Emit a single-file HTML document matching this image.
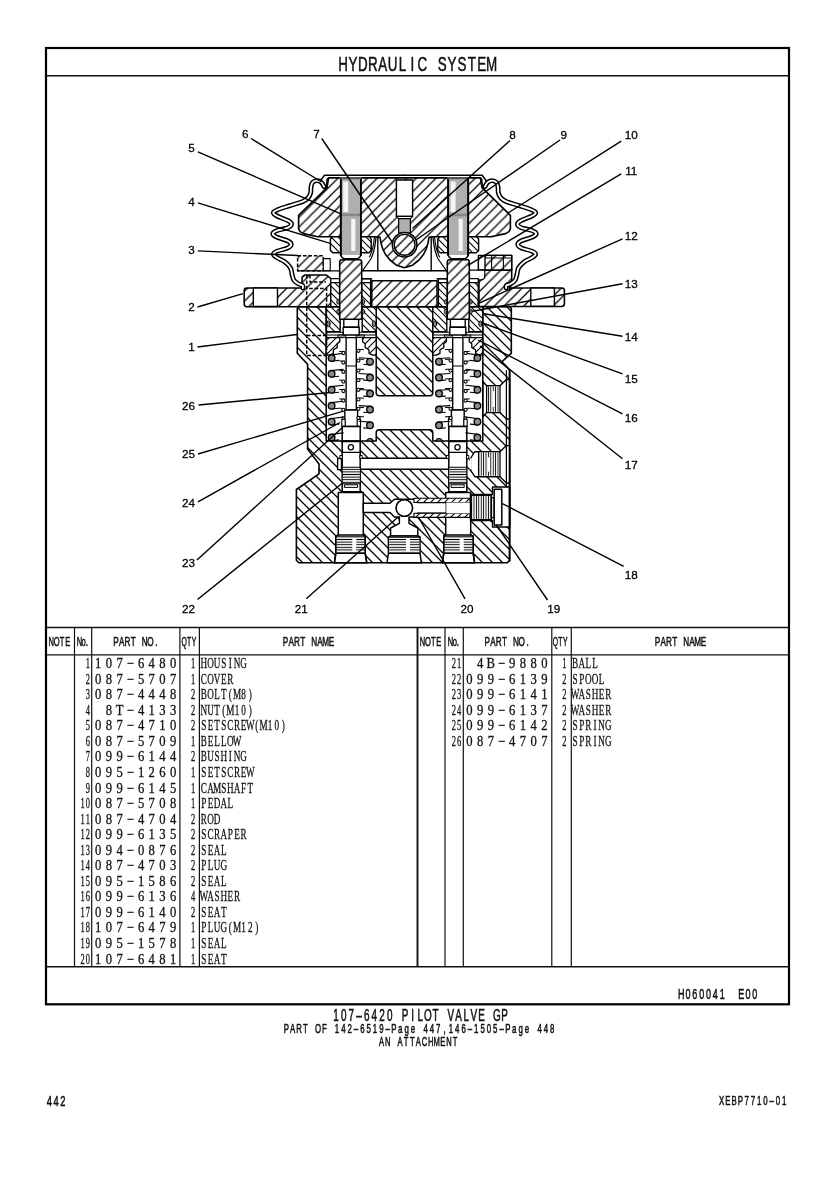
<!DOCTYPE html>
<html><head><meta charset="utf-8"><title>Hydraulic System</title>
<style>
html,body{margin:0;padding:0;background:#fff}
svg{display:block}
text{text-anchor:middle;fill:#111}
.s{font-family:"Liberation Sans",sans-serif;stroke:#111;stroke-width:0.55px}
.m{font-family:"Liberation Serif",serif;stroke:#111;stroke-width:0.3px}
.n{font-family:"Liberation Sans",sans-serif;font-size:11.7px;fill:#000;stroke:#000;stroke-width:0.28px}
</style></head><body>
<svg width="840" height="1189" viewBox="0 0 840 1189">
<rect width="840" height="1189" fill="#fff"/>
<defs>
<pattern id="hA" patternUnits="userSpaceOnUse" width="9.8" height="9.8" patternTransform="translate(6.6,0)"><rect width="9.8" height="9.8" fill="#fff"/><path d="M-1,1 l2,-2 M0,9.8 l9.8,-9.8 M8.8,10.8 l2,-2" stroke="#000" stroke-width="1.25"/></pattern>
<pattern id="hB" patternUnits="userSpaceOnUse" width="10" height="10" patternTransform="translate(0,0)"><rect width="10" height="10" fill="#fff"/><path d="M-1,9 l2,2 M0,0 l10,10 M9,-1 l2,2" stroke="#000" stroke-width="1.25"/></pattern>
<pattern id="hA2" patternUnits="userSpaceOnUse" width="7" height="7" patternTransform="translate(2,0)"><rect width="7" height="7" fill="#fff"/><path d="M-1,1 l2,-2 M0,7 l7,-7 M6,8 l2,-2" stroke="#000" stroke-width="1.1"/></pattern>
<pattern id="hB2" patternUnits="userSpaceOnUse" width="7" height="7" patternTransform="translate(3,0)"><rect width="7" height="7" fill="#fff"/><path d="M-1,6 l2,2 M0,0 l7,7 M6,-1 l2,2" stroke="#000" stroke-width="1.1"/></pattern>
<pattern id="hC" patternUnits="userSpaceOnUse" width="1.7" height="1.7" patternTransform="translate(0,0)"><rect width="1.7" height="1.7" fill="#fff"/><path d="M-1,1 l2,-2 M0,1.7 l1.7,-1.7 M0.7,2.7 l2,-2" stroke="#000" stroke-width="0.6"/></pattern>
<pattern id="th" patternUnits="userSpaceOnUse" width="4" height="1.9"><rect width="4" height="1.9" fill="#fff"/><path d="M0,0.95 h4" stroke="#000" stroke-width="0.62"/></pattern>
<pattern id="th2" patternUnits="userSpaceOnUse" width="4" height="2.6"><rect width="4" height="2.6" fill="#fff"/><path d="M0,1.3 h4" stroke="#000" stroke-width="1.0"/></pattern>
<pattern id="tv" patternUnits="userSpaceOnUse" width="2.4" height="4"><rect width="2.4" height="4" fill="#fff"/><path d="M1.2,0 v4" stroke="#000" stroke-width="0.9"/></pattern>
</defs>
<g stroke="#000" stroke-linejoin="round" stroke-linecap="round" fill="none">
<polygon points="297.3,308.6 299.0,306.7 509.8,306.7 511.3,308.4 511.3,353.3 502.0,361.7 509.6,370.0 509.6,560.3 507.3,562.8 298.8,562.8 296.4,560.3 296.4,489.5 319.0,473.8 319.0,464.0 307.6,449.0 307.6,364.3 297.3,353.3" fill="url(#hB)" stroke-width="1.62"/>
<path d="M326.2,306.7 V441 H376.2 V432.7 Q376.2,429.7 379.2,429.7 H429.8 Q432.8,429.7 432.8,432.7 V441 H482.8 V306.7 H432.8 V392.8 Q432.8,395.8 429.8,395.8 H379.2 Q376.2,395.8 376.2,392.8 V306.7 Z" fill="#fff" stroke-width="1.50"/>
<polygon points="338.3,492.5 338.3,535.0 335.8,536.0 335.8,553.3 334.4,562.8 366.8,562.8 365.2,553.3 365.2,536.0 363.3,535.0 363.3,492.5" fill="#fff" stroke-width="1.50"/>
<rect x="336.6" y="537.0" width="27.8" height="15.6" fill="url(#th2)" stroke-width="0.00"/>
<line x1="335.8" y1="536.0" x2="365.2" y2="536.0" stroke-width="1.25"/>
<line x1="335.8" y1="553.3" x2="365.2" y2="553.3" stroke-width="1.25"/>
<line x1="338.3" y1="534.8" x2="363.3" y2="534.8" stroke-width="1.25"/>
<polyline points="335.8,536.0 335.8,553.3 334.4,562.8" fill="none" stroke-width="1.50"/>
<polyline points="365.2,536.0 365.2,553.3 366.8,562.8" fill="none" stroke-width="1.50"/>
<rect x="352.3" y="538.2" width="4" height="13.6" fill="#fff" stroke="none"/>
<polygon points="470.7,492.5 470.7,535.0 473.2,536.0 473.2,553.3 474.6,562.8 442.2,562.8 443.8,553.3 443.8,536.0 445.7,535.0 445.7,492.5" fill="#fff" stroke-width="1.50"/>
<rect x="444.6" y="537.0" width="27.8" height="15.6" fill="url(#th2)" stroke-width="0.00"/>
<line x1="473.2" y1="536.0" x2="443.8" y2="536.0" stroke-width="1.25"/>
<line x1="473.2" y1="553.3" x2="443.8" y2="553.3" stroke-width="1.25"/>
<line x1="470.7" y1="534.8" x2="445.7" y2="534.8" stroke-width="1.25"/>
<polyline points="473.2,536.0 473.2,553.3 474.6,562.8" fill="none" stroke-width="1.50"/>
<polyline points="443.8,536.0 443.8,553.3 442.2,562.8" fill="none" stroke-width="1.50"/>
<rect x="459.7" y="538.2" width="4" height="13.6" fill="#fff" stroke="none"/>
<rect x="337.6" y="458.6" width="3.9" height="11.0" fill="#fff" stroke-width="1.38"/>
<rect x="359.2" y="458.3" width="91.8" height="10.9" fill="#fff" stroke-width="1.38"/>
<path d="M363.3,503.3 H390 L394.5,499.3 H414 L417.5,502.5 H446.3 V513.3 H417.5 L414,517 H409 V523.3 L417.8,528 V536 H390.6 V528 L399.4,523.3 V517 H394.5 L390,512.5 H363.3 Z" fill="#fff" stroke-width="1.44"/>
<polygon points="390.6,536.0 388.4,537.0 388.4,553.3 387.0,562.8 421.4,562.8 420.0,553.3 420.0,537.0 417.8,536.0" fill="#fff" stroke-width="1.50"/>
<rect x="389.2" y="538.0" width="30.0" height="14.6" fill="url(#th2)" stroke-width="0.00"/>
<line x1="388.4" y1="537.0" x2="420.0" y2="537.0" stroke-width="1.25"/>
<line x1="388.4" y1="553.3" x2="420.0" y2="553.3" stroke-width="1.25"/>
<rect x="406" y="538.2" width="4" height="13.6" fill="#fff" stroke="none"/>
<rect x="414.0" y="498.2" width="56.0" height="4.3" fill="url(#hA2)" stroke-width="1.12"/>
<rect x="414.0" y="513.3" width="56.0" height="4.1" fill="url(#hA2)" stroke-width="1.12"/>
<rect x="446.3" y="502.5" width="24.2" height="10.8" fill="#fff" stroke-width="0.00"/>
<circle cx="404.3" cy="508.0" r="8.3" fill="#fff" stroke-width="1.62"/>
<polygon points="470.5,494.5 492.5,494.5 492.5,487.0 509.6,487.0 509.6,527.0 492.5,527.0 492.5,520.5 470.5,520.5" fill="#fff" stroke-width="1.44"/>
<rect x="471.5" y="495.5" width="20.0" height="24.0" fill="url(#tv)" stroke-width="1.12"/>
<rect x="491.5" y="497.5" width="2.7" height="20.0" fill="#fff" stroke-width="1.25"/>
<rect x="494.2" y="489.3" width="7.6" height="35.7" fill="#fff" stroke-width="1.50"/>
<line x1="509.6" y1="486.0" x2="509.6" y2="528.0" stroke-width="1.62"/>
<polygon points="482.8,381.5 486.6,385.8 500.0,385.8 506.4,379.6 509.6,379.6 509.6,419.0 506.4,419.0 500.0,412.6 486.6,412.6 482.8,416.8" fill="#fff" stroke-width="1.38"/>
<rect x="487.6" y="386.6" width="11.6" height="25.2" fill="url(#tv)" stroke-width="0.00"/>
<line x1="486.6" y1="385.8" x2="486.6" y2="412.6" stroke-width="1.25"/>
<line x1="500.0" y1="385.8" x2="500.0" y2="412.6" stroke-width="1.25"/>
<line x1="493.5" y1="392.0" x2="493.5" y2="406.0" stroke-width="2.00" stroke="#fff"/>
<line x1="482.8" y1="381.5" x2="482.8" y2="416.8" stroke-width="1.38"/>
<polygon points="470.8,458.0 470.8,470.5 474.8,476.7 500.0,476.7 506.4,483.0 509.6,483.0 509.6,445.6 506.4,445.6 500.0,451.7 474.8,451.7" fill="#fff" stroke-width="1.38"/>
<rect x="479.0" y="452.6" width="20.2" height="23.2" fill="url(#tv)" stroke-width="0.00"/>
<line x1="478.6" y1="451.7" x2="478.6" y2="476.7" stroke-width="1.25"/>
<line x1="500.0" y1="451.7" x2="500.0" y2="476.7" stroke-width="1.25"/>
<line x1="489.0" y1="458.0" x2="489.0" y2="471.0" stroke-width="2.00" stroke="#fff"/>
<line x1="470.8" y1="459.2" x2="470.8" y2="468.6" stroke-width="2.00" stroke="#fff"/>
<line x1="506.4" y1="370.5" x2="506.4" y2="486.6" stroke-width="1.25"/>
<line x1="509.6" y1="370.0" x2="509.6" y2="561.0" stroke-width="1.62"/>
<rect x="326.2" y="306.7" width="14.0" height="25.0" fill="url(#hB2)" stroke-width="1.38"/>
<ellipse cx="328.5" cy="323.8" rx="1.7" ry="2.9" fill="#888" stroke-width="0.9"/>
<rect x="326.6" y="332.2" width="16.6" height="2.8" fill="#fff" stroke-width="1.12"/>
<rect x="338.2" y="335.0" width="7.6" height="2.6" fill="url(#hC)" stroke-width="1.00"/>
<polygon points="326.2,337.6 339.8,337.6 339.8,341.7 337.2,343.8 337.2,347.6 333.4,349.8 333.4,353.3 329.7,355.2 326.2,355.2" fill="url(#hA2)" stroke-width="1.31"/>
<rect x="362.2" y="306.7" width="14.0" height="25.0" fill="url(#hB2)" stroke-width="1.38"/>
<ellipse cx="373.9" cy="323.8" rx="1.7" ry="2.9" fill="#888" stroke-width="0.9"/>
<rect x="359.2" y="332.2" width="16.6" height="2.8" fill="#fff" stroke-width="1.12"/>
<rect x="356.6" y="335.0" width="7.6" height="2.6" fill="url(#hC)" stroke-width="1.00"/>
<polygon points="376.2,337.6 362.6,337.6 362.6,341.7 365.2,343.8 365.2,347.6 369.0,349.8 369.0,353.3 372.7,355.2 376.2,355.2" fill="url(#hA2)" stroke-width="1.31"/>
<rect x="343.8" y="319.3" width="14.8" height="8.0" fill="#fff" stroke-width="1.38"/>
<rect x="343.2" y="327.3" width="16.0" height="7.7" fill="#fff" stroke-width="1.38"/>
<rect x="346.1" y="337.6" width="10.2" height="72.4" fill="#fff" stroke-width="1.38"/>
<line x1="346.6" y1="366.0" x2="355.8" y2="366.0" stroke-width="1.12"/>
<rect x="344.8" y="410.0" width="12.8" height="16.4" fill="#fff" stroke-width="1.38"/>
<rect x="341.8" y="419.2" width="3.4" height="7.2" fill="#fff" stroke-width="1.12"/>
<rect x="342.6" y="416.8" width="1.8" height="2.4" fill="#fff" stroke-width="1.00"/>
<rect x="357.2" y="419.2" width="3.4" height="7.2" fill="#fff" stroke-width="1.12"/>
<rect x="358.0" y="416.8" width="1.8" height="2.4" fill="#fff" stroke-width="1.00"/>
<rect x="342.2" y="426.4" width="18.0" height="14.6" fill="#fff" stroke-width="1.50"/>
<rect x="342.2" y="441.0" width="18.0" height="50.8" fill="#fff" stroke-width="1.50"/>
<line x1="342.2" y1="441.6" x2="360.2" y2="441.6" stroke-width="1.12"/>
<line x1="342.2" y1="452.4" x2="360.2" y2="452.4" stroke-width="1.12"/>
<line x1="342.2" y1="467.2" x2="360.2" y2="467.2" stroke-width="1.12"/>
<circle cx="350.9" cy="447.2" r="2.6" fill="#fff" stroke-width="1.25"/>
<rect x="342.8" y="468.0" width="16.8" height="15.4" fill="url(#th2)" stroke-width="0.00"/>
<rect x="344.8" y="484.8" width="12.8" height="2.6" fill="#fff" stroke-width="1.00"/>
<line x1="342.2" y1="483.8" x2="360.2" y2="483.8" stroke-width="1.12"/>
<rect x="340.2" y="455.5" width="2.0" height="3.1" fill="#fff" stroke-width="1.00"/>
<rect x="360.2" y="455.5" width="2.0" height="3.1" fill="#fff" stroke-width="1.00"/>
<line x1="331.6" y1="354.8" x2="343.2" y2="353.4" stroke-width="1.12"/>
<line x1="331.6" y1="361.2" x2="338.7" y2="360.4" stroke-width="1.12"/>
<circle cx="331.6" cy="358.0" r="3.3" fill="#8c8c8c" stroke-width="1.38"/>
<line x1="331.6" y1="370.6" x2="343.2" y2="369.2" stroke-width="1.12"/>
<line x1="331.6" y1="377.0" x2="338.7" y2="376.2" stroke-width="1.12"/>
<circle cx="331.6" cy="373.8" r="3.3" fill="#8c8c8c" stroke-width="1.38"/>
<line x1="331.6" y1="386.6" x2="343.2" y2="385.2" stroke-width="1.12"/>
<line x1="331.6" y1="393.0" x2="338.7" y2="392.2" stroke-width="1.12"/>
<circle cx="331.6" cy="389.8" r="3.3" fill="#8c8c8c" stroke-width="1.38"/>
<line x1="331.6" y1="402.6" x2="343.2" y2="401.2" stroke-width="1.12"/>
<line x1="331.6" y1="409.0" x2="338.7" y2="408.2" stroke-width="1.12"/>
<circle cx="331.6" cy="405.8" r="3.3" fill="#8c8c8c" stroke-width="1.38"/>
<line x1="331.6" y1="418.5" x2="343.2" y2="417.1" stroke-width="1.12"/>
<line x1="331.6" y1="424.9" x2="338.7" y2="424.1" stroke-width="1.12"/>
<circle cx="331.6" cy="421.7" r="3.3" fill="#8c8c8c" stroke-width="1.38"/>
<line x1="331.6" y1="434.3" x2="343.2" y2="432.9" stroke-width="1.12"/>
<line x1="331.6" y1="440.7" x2="338.7" y2="439.9" stroke-width="1.12"/>
<circle cx="331.6" cy="437.5" r="3.3" fill="#8c8c8c" stroke-width="1.38"/>
<line x1="370.0" y1="358.5" x2="359.2" y2="357.7" stroke-width="1.12"/>
<line x1="370.0" y1="364.9" x2="363.7" y2="364.3" stroke-width="1.12"/>
<circle cx="370.0" cy="361.7" r="3.3" fill="#8c8c8c" stroke-width="1.38"/>
<line x1="370.0" y1="374.3" x2="359.2" y2="373.5" stroke-width="1.12"/>
<line x1="370.0" y1="380.7" x2="363.7" y2="380.1" stroke-width="1.12"/>
<circle cx="370.0" cy="377.5" r="3.3" fill="#8c8c8c" stroke-width="1.38"/>
<line x1="370.0" y1="390.3" x2="359.2" y2="389.5" stroke-width="1.12"/>
<line x1="370.0" y1="396.7" x2="363.7" y2="396.1" stroke-width="1.12"/>
<circle cx="370.0" cy="393.5" r="3.3" fill="#8c8c8c" stroke-width="1.38"/>
<line x1="370.0" y1="406.4" x2="359.2" y2="405.6" stroke-width="1.12"/>
<line x1="370.0" y1="412.8" x2="363.7" y2="412.2" stroke-width="1.12"/>
<circle cx="370.0" cy="409.6" r="3.3" fill="#8c8c8c" stroke-width="1.38"/>
<line x1="370.0" y1="422.1" x2="359.2" y2="421.3" stroke-width="1.12"/>
<line x1="370.0" y1="428.5" x2="363.7" y2="427.9" stroke-width="1.12"/>
<circle cx="370.0" cy="425.3" r="3.3" fill="#8c8c8c" stroke-width="1.38"/>
<path d="M366.8,441 A3.3,3.3 0 0 1 373.2,441 Z" fill="#777" stroke-width="1.1"/>
<circle cx="343.4" cy="353.0" r="1.6" fill="#fff" stroke-width="1.12"/>
<line x1="341.8" y1="351.6" x2="339.6" y2="351.4" stroke-width="1.00"/>
<circle cx="343.4" cy="362.5" r="1.6" fill="#fff" stroke-width="1.12"/>
<line x1="341.8" y1="361.1" x2="339.6" y2="360.9" stroke-width="1.00"/>
<circle cx="343.4" cy="371.8" r="1.6" fill="#fff" stroke-width="1.12"/>
<line x1="341.8" y1="370.4" x2="339.6" y2="370.2" stroke-width="1.00"/>
<circle cx="343.4" cy="381.6" r="1.6" fill="#fff" stroke-width="1.12"/>
<line x1="341.8" y1="380.2" x2="339.6" y2="380.0" stroke-width="1.00"/>
<circle cx="343.4" cy="391.0" r="1.6" fill="#fff" stroke-width="1.12"/>
<line x1="341.8" y1="389.6" x2="339.6" y2="389.4" stroke-width="1.00"/>
<circle cx="343.4" cy="400.5" r="1.6" fill="#fff" stroke-width="1.12"/>
<line x1="341.8" y1="399.1" x2="339.6" y2="398.9" stroke-width="1.00"/>
<circle cx="343.4" cy="409.8" r="1.6" fill="#fff" stroke-width="1.12"/>
<line x1="341.8" y1="408.4" x2="339.6" y2="408.2" stroke-width="1.00"/>
<circle cx="358.4" cy="350.8" r="1.6" fill="#fff" stroke-width="1.12"/>
<line x1="360.0" y1="349.4" x2="363.6" y2="349.6" stroke-width="1.00"/>
<circle cx="358.4" cy="360.6" r="1.6" fill="#fff" stroke-width="1.12"/>
<line x1="360.0" y1="359.2" x2="363.6" y2="359.4" stroke-width="1.00"/>
<circle cx="358.4" cy="370.6" r="1.6" fill="#fff" stroke-width="1.12"/>
<line x1="360.0" y1="369.2" x2="363.6" y2="369.4" stroke-width="1.00"/>
<circle cx="358.4" cy="380.2" r="1.6" fill="#fff" stroke-width="1.12"/>
<line x1="360.0" y1="378.8" x2="363.6" y2="379.0" stroke-width="1.00"/>
<circle cx="358.4" cy="389.8" r="1.6" fill="#fff" stroke-width="1.12"/>
<line x1="360.0" y1="388.4" x2="363.6" y2="388.6" stroke-width="1.00"/>
<circle cx="358.4" cy="399.4" r="1.6" fill="#fff" stroke-width="1.12"/>
<line x1="360.0" y1="398.0" x2="363.6" y2="398.2" stroke-width="1.00"/>
<circle cx="358.4" cy="408.8" r="1.6" fill="#fff" stroke-width="1.12"/>
<line x1="360.0" y1="407.4" x2="363.6" y2="407.6" stroke-width="1.00"/>
<circle cx="358.4" cy="418.0" r="1.6" fill="#fff" stroke-width="1.12"/>
<line x1="360.0" y1="416.6" x2="363.6" y2="416.8" stroke-width="1.00"/>
<rect x="432.8" y="306.7" width="14.0" height="25.0" fill="url(#hB2)" stroke-width="1.38"/>
<ellipse cx="435.1" cy="323.8" rx="1.7" ry="2.9" fill="#888" stroke-width="0.9"/>
<rect x="433.2" y="332.2" width="16.6" height="2.8" fill="#fff" stroke-width="1.12"/>
<rect x="444.8" y="335.0" width="7.6" height="2.6" fill="url(#hC)" stroke-width="1.00"/>
<polygon points="432.8,337.6 446.4,337.6 446.4,341.7 443.8,343.8 443.8,347.6 440.0,349.8 440.0,353.3 436.3,355.2 432.8,355.2" fill="url(#hA2)" stroke-width="1.31"/>
<rect x="468.8" y="306.7" width="14.0" height="25.0" fill="url(#hB2)" stroke-width="1.38"/>
<ellipse cx="480.5" cy="323.8" rx="1.7" ry="2.9" fill="#888" stroke-width="0.9"/>
<rect x="465.8" y="332.2" width="16.6" height="2.8" fill="#fff" stroke-width="1.12"/>
<rect x="463.2" y="335.0" width="7.6" height="2.6" fill="url(#hC)" stroke-width="1.00"/>
<polygon points="482.8,337.6 469.2,337.6 469.2,341.7 471.8,343.8 471.8,347.6 475.6,349.8 475.6,353.3 479.3,355.2 482.8,355.2" fill="url(#hA2)" stroke-width="1.31"/>
<rect x="450.4" y="319.3" width="14.8" height="8.0" fill="#fff" stroke-width="1.38"/>
<rect x="449.8" y="327.3" width="16.0" height="7.7" fill="#fff" stroke-width="1.38"/>
<rect x="452.7" y="337.6" width="10.2" height="72.4" fill="#fff" stroke-width="1.38"/>
<line x1="453.2" y1="366.0" x2="462.4" y2="366.0" stroke-width="1.12"/>
<rect x="451.4" y="410.0" width="12.8" height="16.4" fill="#fff" stroke-width="1.38"/>
<rect x="448.4" y="419.2" width="3.4" height="7.2" fill="#fff" stroke-width="1.12"/>
<rect x="449.2" y="416.8" width="1.8" height="2.4" fill="#fff" stroke-width="1.00"/>
<rect x="463.8" y="419.2" width="3.4" height="7.2" fill="#fff" stroke-width="1.12"/>
<rect x="464.6" y="416.8" width="1.8" height="2.4" fill="#fff" stroke-width="1.00"/>
<rect x="448.8" y="426.4" width="18.0" height="14.6" fill="#fff" stroke-width="1.50"/>
<rect x="448.8" y="441.0" width="18.0" height="50.8" fill="#fff" stroke-width="1.50"/>
<line x1="448.8" y1="441.6" x2="466.8" y2="441.6" stroke-width="1.12"/>
<line x1="448.8" y1="452.4" x2="466.8" y2="452.4" stroke-width="1.12"/>
<line x1="448.8" y1="467.2" x2="466.8" y2="467.2" stroke-width="1.12"/>
<circle cx="457.5" cy="447.2" r="2.6" fill="#fff" stroke-width="1.25"/>
<rect x="449.4" y="468.0" width="16.8" height="15.4" fill="url(#th2)" stroke-width="0.00"/>
<rect x="451.4" y="484.8" width="12.8" height="2.6" fill="#fff" stroke-width="1.00"/>
<line x1="448.8" y1="483.8" x2="466.8" y2="483.8" stroke-width="1.12"/>
<rect x="446.8" y="455.5" width="2.0" height="3.1" fill="#fff" stroke-width="1.00"/>
<rect x="466.8" y="455.5" width="2.0" height="3.1" fill="#fff" stroke-width="1.00"/>
<line x1="477.4" y1="354.8" x2="465.8" y2="353.4" stroke-width="1.12"/>
<line x1="477.4" y1="361.2" x2="470.3" y2="360.4" stroke-width="1.12"/>
<circle cx="477.4" cy="358.0" r="3.3" fill="#8c8c8c" stroke-width="1.38"/>
<line x1="477.4" y1="370.6" x2="465.8" y2="369.2" stroke-width="1.12"/>
<line x1="477.4" y1="377.0" x2="470.3" y2="376.2" stroke-width="1.12"/>
<circle cx="477.4" cy="373.8" r="3.3" fill="#8c8c8c" stroke-width="1.38"/>
<line x1="477.4" y1="386.6" x2="465.8" y2="385.2" stroke-width="1.12"/>
<line x1="477.4" y1="393.0" x2="470.3" y2="392.2" stroke-width="1.12"/>
<circle cx="477.4" cy="389.8" r="3.3" fill="#8c8c8c" stroke-width="1.38"/>
<line x1="477.4" y1="402.6" x2="465.8" y2="401.2" stroke-width="1.12"/>
<line x1="477.4" y1="409.0" x2="470.3" y2="408.2" stroke-width="1.12"/>
<circle cx="477.4" cy="405.8" r="3.3" fill="#8c8c8c" stroke-width="1.38"/>
<line x1="477.4" y1="418.5" x2="465.8" y2="417.1" stroke-width="1.12"/>
<line x1="477.4" y1="424.9" x2="470.3" y2="424.1" stroke-width="1.12"/>
<circle cx="477.4" cy="421.7" r="3.3" fill="#8c8c8c" stroke-width="1.38"/>
<line x1="477.4" y1="434.3" x2="465.8" y2="432.9" stroke-width="1.12"/>
<line x1="477.4" y1="440.7" x2="470.3" y2="439.9" stroke-width="1.12"/>
<circle cx="477.4" cy="437.5" r="3.3" fill="#8c8c8c" stroke-width="1.38"/>
<line x1="439.0" y1="358.5" x2="449.8" y2="357.7" stroke-width="1.12"/>
<line x1="439.0" y1="364.9" x2="445.3" y2="364.3" stroke-width="1.12"/>
<circle cx="439.0" cy="361.7" r="3.3" fill="#8c8c8c" stroke-width="1.38"/>
<line x1="439.0" y1="374.3" x2="449.8" y2="373.5" stroke-width="1.12"/>
<line x1="439.0" y1="380.7" x2="445.3" y2="380.1" stroke-width="1.12"/>
<circle cx="439.0" cy="377.5" r="3.3" fill="#8c8c8c" stroke-width="1.38"/>
<line x1="439.0" y1="390.3" x2="449.8" y2="389.5" stroke-width="1.12"/>
<line x1="439.0" y1="396.7" x2="445.3" y2="396.1" stroke-width="1.12"/>
<circle cx="439.0" cy="393.5" r="3.3" fill="#8c8c8c" stroke-width="1.38"/>
<line x1="439.0" y1="406.4" x2="449.8" y2="405.6" stroke-width="1.12"/>
<line x1="439.0" y1="412.8" x2="445.3" y2="412.2" stroke-width="1.12"/>
<circle cx="439.0" cy="409.6" r="3.3" fill="#8c8c8c" stroke-width="1.38"/>
<line x1="439.0" y1="422.1" x2="449.8" y2="421.3" stroke-width="1.12"/>
<line x1="439.0" y1="428.5" x2="445.3" y2="427.9" stroke-width="1.12"/>
<circle cx="439.0" cy="425.3" r="3.3" fill="#8c8c8c" stroke-width="1.38"/>
<path d="M435.8,441 A3.3,3.3 0 0 1 442.2,441 Z" fill="#777" stroke-width="1.1"/>
<circle cx="465.6" cy="353.0" r="1.6" fill="#fff" stroke-width="1.12"/>
<line x1="467.2" y1="351.6" x2="469.4" y2="351.4" stroke-width="1.00"/>
<circle cx="465.6" cy="362.5" r="1.6" fill="#fff" stroke-width="1.12"/>
<line x1="467.2" y1="361.1" x2="469.4" y2="360.9" stroke-width="1.00"/>
<circle cx="465.6" cy="371.8" r="1.6" fill="#fff" stroke-width="1.12"/>
<line x1="467.2" y1="370.4" x2="469.4" y2="370.2" stroke-width="1.00"/>
<circle cx="465.6" cy="381.6" r="1.6" fill="#fff" stroke-width="1.12"/>
<line x1="467.2" y1="380.2" x2="469.4" y2="380.0" stroke-width="1.00"/>
<circle cx="465.6" cy="391.0" r="1.6" fill="#fff" stroke-width="1.12"/>
<line x1="467.2" y1="389.6" x2="469.4" y2="389.4" stroke-width="1.00"/>
<circle cx="465.6" cy="400.5" r="1.6" fill="#fff" stroke-width="1.12"/>
<line x1="467.2" y1="399.1" x2="469.4" y2="398.9" stroke-width="1.00"/>
<circle cx="465.6" cy="409.8" r="1.6" fill="#fff" stroke-width="1.12"/>
<line x1="467.2" y1="408.4" x2="469.4" y2="408.2" stroke-width="1.00"/>
<circle cx="450.6" cy="350.8" r="1.6" fill="#fff" stroke-width="1.12"/>
<line x1="449.0" y1="349.4" x2="445.4" y2="349.6" stroke-width="1.00"/>
<circle cx="450.6" cy="360.6" r="1.6" fill="#fff" stroke-width="1.12"/>
<line x1="449.0" y1="359.2" x2="445.4" y2="359.4" stroke-width="1.00"/>
<circle cx="450.6" cy="370.6" r="1.6" fill="#fff" stroke-width="1.12"/>
<line x1="449.0" y1="369.2" x2="445.4" y2="369.4" stroke-width="1.00"/>
<circle cx="450.6" cy="380.2" r="1.6" fill="#fff" stroke-width="1.12"/>
<line x1="449.0" y1="378.8" x2="445.4" y2="379.0" stroke-width="1.00"/>
<circle cx="450.6" cy="389.8" r="1.6" fill="#fff" stroke-width="1.12"/>
<line x1="449.0" y1="388.4" x2="445.4" y2="388.6" stroke-width="1.00"/>
<circle cx="450.6" cy="399.4" r="1.6" fill="#fff" stroke-width="1.12"/>
<line x1="449.0" y1="398.0" x2="445.4" y2="398.2" stroke-width="1.00"/>
<circle cx="450.6" cy="408.8" r="1.6" fill="#fff" stroke-width="1.12"/>
<line x1="449.0" y1="407.4" x2="445.4" y2="407.6" stroke-width="1.00"/>
<circle cx="450.6" cy="418.0" r="1.6" fill="#fff" stroke-width="1.12"/>
<line x1="449.0" y1="416.6" x2="445.4" y2="416.8" stroke-width="1.00"/>
<path d="M246.8,288 H301.7 L302.2,277 L305,275 H326.5 L330.8,278.7 V306.7 H246.8 Q244.2,306.7 244.2,304 V290.6 Q244.2,288 246.8,288 Z" fill="url(#hA)" stroke-width="1.56"/>
<rect x="253.3" y="288.0" width="24.2" height="18.5" fill="#fff" stroke-width="1.38"/>
<rect x="297.6" y="255.8" width="25.7" height="15.0" fill="url(#hA)" stroke-width="1.50" stroke-dasharray="3.6 1.8" stroke-linecap="butt"/>
<rect x="323.3" y="258.6" width="6.9" height="12.2" fill="#fff" stroke-width="1.12"/>
<line x1="297.6" y1="270.8" x2="339.5" y2="270.8" stroke-width="1.25"/>
<polyline points="306.7,275.0 306.7,355.5 326.2,355.5" fill="none" stroke-width="1.44" stroke-dasharray="3.6 1.8" stroke-linecap="butt"/>
<polyline points="309.2,288.5 326.6,288.5 326.6,355.0" fill="none" stroke-width="1.44" stroke-dasharray="3.6 1.8" stroke-linecap="butt"/>
<polyline points="306.7,335.5 326.0,335.5" fill="none" stroke-width="1.44" stroke-dasharray="3.6 1.8" stroke-linecap="butt"/>
<polyline points="310.0,275.0 310.0,282.0 326.0,282.0" fill="none" stroke-width="1.44" stroke-dasharray="3.6 1.8" stroke-linecap="butt"/>
<rect x="371.8" y="280.8" width="65.2" height="25.9" fill="url(#hA)" stroke-width="1.50"/>
<path d="M479,270 H511.7 V285 L509,288 H561.8 Q564.4,288 564.4,290.6 V303.8 Q564.4,306.5 561.8,306.5 H479 Z" fill="url(#hA)" stroke-width="1.56"/>
<rect x="530.8" y="288.0" width="23.6" height="18.3" fill="#fff" stroke-width="1.38"/>
<rect x="478.4" y="255.4" width="33.3" height="14.6" fill="#fff" stroke-width="1.38"/>
<rect x="485.0" y="255.4" width="26.7" height="14.6" fill="url(#hA)" stroke-width="1.38"/>
<line x1="491.6" y1="255.4" x2="491.6" y2="270.0" stroke-width="1.12"/>
<line x1="503.4" y1="255.4" x2="503.4" y2="270.0" stroke-width="1.12"/>
<line x1="485.0" y1="258.0" x2="511.7" y2="258.0" stroke-width="1.00"/>
<path d="M469.2,270.2 H484.8 V276 Q484.8,279.8 480.5,279.8 H469.2 Z" fill="#fff" stroke-width="1.25"/>
<path d="M478.4,270 V262 Q478.4,257.5 482,256.4" fill="none" stroke-width="1.12"/>
<rect x="330.8" y="278.8" width="8.9" height="27.9" fill="url(#hB2)" stroke-width="1.38"/>
<rect x="330.8" y="278.8" width="8.9" height="3.8" fill="#fff" stroke-width="1.12"/>
<ellipse cx="338.1" cy="301.8" rx="1.4" ry="2.4" fill="#888" stroke-width="0.8"/>
<ellipse cx="338.1" cy="311.6" rx="1.4" ry="2.4" fill="#888" stroke-width="0.8"/>
<rect x="361.7" y="278.8" width="8.9" height="27.9" fill="url(#hB2)" stroke-width="1.38"/>
<rect x="361.7" y="278.8" width="8.9" height="3.8" fill="#fff" stroke-width="1.12"/>
<ellipse cx="363.3" cy="301.8" rx="1.4" ry="2.4" fill="#888" stroke-width="0.8"/>
<ellipse cx="363.3" cy="311.6" rx="1.4" ry="2.4" fill="#888" stroke-width="0.8"/>
<path d="M339.7,319.2 V262 Q339.7,259.8 341.7,259.8 H359.7 Q361.7,259.8 361.7,262 V319.2 Z" fill="url(#hA)" stroke-width="1.56"/>
<rect x="438.4" y="278.8" width="8.9" height="27.9" fill="url(#hB2)" stroke-width="1.38"/>
<rect x="438.4" y="278.8" width="8.9" height="3.8" fill="#fff" stroke-width="1.12"/>
<ellipse cx="445.7" cy="301.8" rx="1.4" ry="2.4" fill="#888" stroke-width="0.8"/>
<ellipse cx="445.7" cy="311.6" rx="1.4" ry="2.4" fill="#888" stroke-width="0.8"/>
<rect x="469.3" y="278.8" width="8.9" height="27.9" fill="url(#hB2)" stroke-width="1.38"/>
<rect x="469.3" y="278.8" width="8.9" height="3.8" fill="#fff" stroke-width="1.12"/>
<ellipse cx="470.9" cy="301.8" rx="1.4" ry="2.4" fill="#888" stroke-width="0.8"/>
<ellipse cx="470.9" cy="311.6" rx="1.4" ry="2.4" fill="#888" stroke-width="0.8"/>
<path d="M447.3,319.2 V262 Q447.3,259.8 449.3,259.8 H467.3 Q469.3,259.8 469.3,262 V319.2 Z" fill="url(#hA)" stroke-width="1.56"/>
<polygon points="404.5,177.9 328.6,177.9 327.0,187.6 298.6,215.4 298.6,228.6 300.0,231.6 303.4,233.6 318.0,236.8 376.8,236.8 380.0,237.4 381.0,243.0 382.5,248.3 385.5,254.5 390.0,260.0 396.4,265.2 404.5,267.8 412.6,265.2 419.0,260.0 423.5,254.5 426.5,248.3 428.0,243.0 429.0,237.4 432.2,236.8 491.0,236.8 505.6,233.6 509.0,231.6 510.4,228.6 510.4,215.4 482.0,187.6 480.4,177.9 404.5,177.9" fill="url(#hA)" stroke-width="1.62"/>
<polyline points="404.5,175.2 324.6,175.2 319.8,181.2 323.2,187.6 326.4,187.6 327.2,179.0 328.6,177.9" fill="none" stroke-width="1.56"/>
<polyline points="404.5,175.2 482.2,175.2 486.6,181.2 484.2,187.6 482.4,187.6 481.6,179.0 480.4,177.9" fill="none" stroke-width="1.56"/>
<polyline points="377.8,237.0 377.8,270.8 431.2,270.8 431.2,237.0" fill="none" stroke-width="1.38"/>
<line x1="362.4" y1="270.8" x2="377.8" y2="270.8" stroke-width="1.38"/>
<line x1="431.2" y1="270.8" x2="446.6" y2="270.8" stroke-width="1.38"/>
<path d="M376,237.4 Q374.6,252 370.8,259 Q366,266 362.4,270.8" fill="none" stroke-width="1.25"/>
<path d="M433,237.4 Q434.4,252 438.2,259 Q443,266 446.6,270.8" fill="none" stroke-width="1.25"/>
<path d="M374.4,237.4 Q373.2,250 369.4,257" fill="none" stroke-width="1.12"/>
<path d="M434.6,237.4 Q435.8,250 439.6,257" fill="none" stroke-width="1.12"/>
<line x1="361.6" y1="278.8" x2="371.8" y2="278.8" stroke-width="1.25"/>
<line x1="437.0" y1="278.8" x2="447.4" y2="278.8" stroke-width="1.25"/>
<rect x="396.4" y="180.0" width="16.2" height="36.4" fill="#fff" stroke-width="1.44"/>
<polygon points="396.4,216.4 398.6,218.6 410.4,218.6 412.6,216.4" fill="#fff" stroke-width="1.25"/>
<rect x="398.6" y="218.6" width="11.8" height="14.4" fill="url(#th)" stroke-width="1.25"/>
<circle cx="404.6" cy="244.8" r="12.3" fill="#fff" stroke-width="1.50"/>
<circle cx="404.6" cy="244.8" r="10.4" fill="url(#hA)" stroke-width="1.38"/>
<polygon points="340.8,236.8 332.4,236.8 330.4,239.0 330.4,250.4 332.8,252.8 340.8,252.8" fill="url(#hB2)" stroke-width="1.44"/>
<polygon points="360.8,236.8 369.2,236.8 371.2,239.0 371.2,250.4 368.8,252.8 360.8,252.8" fill="url(#hB2)" stroke-width="1.44"/>
<rect x="340.8" y="178.0" width="20.0" height="77.4" fill="#fff" stroke-width="1.62"/>
<rect x="342.0" y="179.2" width="17.6" height="75.8" fill="url(#th)" stroke-width="0.00"/>
<path d="M340.8,255 Q341.8,258.6 344.8,258.6 H356.8 Q359.8,258.6 360.8,255" fill="#fff" stroke-width="1.38"/>
<rect x="341.4" y="213.6" width="18.8" height="2.6" fill="#888" stroke-width="0.00"/>
<rect x="343.2" y="181.5" width="5" height="30.5" fill="#fff" stroke="none" opacity="0.88"/>
<rect x="351.2" y="219" width="4.2" height="32" fill="#fff" stroke="none" opacity="0.88"/>
<line x1="340.8" y1="178.0" x2="340.8" y2="255.0" stroke-width="1.88"/>
<line x1="360.8" y1="178.0" x2="360.8" y2="255.0" stroke-width="1.88"/>
<line x1="340.8" y1="178.0" x2="360.8" y2="178.0" stroke-width="2.25" stroke="#555"/>
<polygon points="448.2,236.8 439.8,236.8 437.8,239.0 437.8,250.4 440.2,252.8 448.2,252.8" fill="url(#hB2)" stroke-width="1.44"/>
<polygon points="468.2,236.8 476.6,236.8 478.6,239.0 478.6,250.4 476.2,252.8 468.2,252.8" fill="url(#hB2)" stroke-width="1.44"/>
<rect x="448.2" y="178.0" width="20.0" height="77.4" fill="#fff" stroke-width="1.62"/>
<rect x="449.4" y="179.2" width="17.6" height="75.8" fill="url(#th)" stroke-width="0.00"/>
<path d="M448.2,255 Q449.2,258.6 452.2,258.6 H464.2 Q467.2,258.6 468.2,255" fill="#fff" stroke-width="1.38"/>
<rect x="448.8" y="213.6" width="18.8" height="2.6" fill="#888" stroke-width="0.00"/>
<rect x="450.6" y="181.5" width="5" height="30.5" fill="#fff" stroke="none" opacity="0.88"/>
<rect x="458.6" y="219" width="4.2" height="32" fill="#fff" stroke="none" opacity="0.88"/>
<line x1="448.2" y1="178.0" x2="448.2" y2="255.0" stroke-width="1.88"/>
<line x1="468.2" y1="178.0" x2="468.2" y2="255.0" stroke-width="1.88"/>
<line x1="448.2" y1="178.0" x2="468.2" y2="178.0" stroke-width="2.25" stroke="#555"/>
<path d="M324.0,186.6 C323.6,185.9 322.6,183.4 321.4,182.4 C320.2,181.4 318.5,180.6 317.0,180.6 C315.5,180.6 313.6,181.3 312.6,182.4 C311.6,183.5 311.3,185.2 311.0,187.0 C310.7,188.8 311.1,191.2 310.6,193.0 C310.1,194.8 309.3,196.6 308.0,198.0 C306.7,199.4 306.0,200.1 303.0,201.4 C300.0,202.7 294.2,204.2 290.0,205.6 C285.8,207.0 280.8,208.4 278.0,209.6 C275.2,210.8 273.5,211.5 273.3,212.6 C273.1,213.7 274.6,214.7 277.0,216.0 C279.4,217.3 285.6,219.3 288.0,220.6 C290.4,221.9 291.6,222.8 291.6,224.0 C291.6,225.2 290.4,226.5 288.0,227.6 C285.6,228.7 279.5,229.6 277.0,230.6 C274.5,231.6 272.9,232.5 272.8,233.6 C272.7,234.7 274.0,235.8 276.5,237.0 C279.0,238.2 285.6,239.7 288.0,241.0 C290.4,242.3 291.3,243.4 291.2,244.6 C291.1,245.8 289.9,246.9 287.5,248.0 C285.1,249.1 279.4,250.2 277.0,251.2 C274.6,252.2 273.4,253.1 273.4,254.2 C273.4,255.3 275.1,256.3 277.0,257.6 C278.9,258.9 282.8,260.3 285.0,262.0 C287.2,263.7 289.3,265.8 290.5,268.0 C291.7,270.2 291.6,272.9 292.2,275.0 C292.8,277.1 292.9,278.9 294.0,280.4 C295.1,281.9 297.2,283.2 298.6,284.0 C300.0,284.8 301.9,284.7 302.6,285.4 C303.3,286.1 302.8,287.6 302.8,288.0" fill="none" stroke-width="4.88"/>
<path d="M324.0,186.6 C323.6,185.9 322.6,183.4 321.4,182.4 C320.2,181.4 318.5,180.6 317.0,180.6 C315.5,180.6 313.6,181.3 312.6,182.4 C311.6,183.5 311.3,185.2 311.0,187.0 C310.7,188.8 311.1,191.2 310.6,193.0 C310.1,194.8 309.3,196.6 308.0,198.0 C306.7,199.4 306.0,200.1 303.0,201.4 C300.0,202.7 294.2,204.2 290.0,205.6 C285.8,207.0 280.8,208.4 278.0,209.6 C275.2,210.8 273.5,211.5 273.3,212.6 C273.1,213.7 274.6,214.7 277.0,216.0 C279.4,217.3 285.6,219.3 288.0,220.6 C290.4,221.9 291.6,222.8 291.6,224.0 C291.6,225.2 290.4,226.5 288.0,227.6 C285.6,228.7 279.5,229.6 277.0,230.6 C274.5,231.6 272.9,232.5 272.8,233.6 C272.7,234.7 274.0,235.8 276.5,237.0 C279.0,238.2 285.6,239.7 288.0,241.0 C290.4,242.3 291.3,243.4 291.2,244.6 C291.1,245.8 289.9,246.9 287.5,248.0 C285.1,249.1 279.4,250.2 277.0,251.2 C274.6,252.2 273.4,253.1 273.4,254.2 C273.4,255.3 275.1,256.3 277.0,257.6 C278.9,258.9 282.8,260.3 285.0,262.0 C287.2,263.7 289.3,265.8 290.5,268.0 C291.7,270.2 291.6,272.9 292.2,275.0 C292.8,277.1 292.9,278.9 294.0,280.4 C295.1,281.9 297.2,283.2 298.6,284.0 C300.0,284.8 301.9,284.7 302.6,285.4 C303.3,286.1 302.8,287.6 302.8,288.0" fill="none" stroke-width="1.88" stroke="#fff"/>
<path d="M485.0,186.6 C485.4,185.9 486.4,183.4 487.6,182.4 C488.8,181.4 490.5,180.6 492.0,180.6 C493.5,180.6 495.4,181.3 496.4,182.4 C497.4,183.5 497.7,185.2 498.0,187.0 C498.3,188.8 497.9,191.2 498.4,193.0 C498.9,194.8 499.7,196.6 501.0,198.0 C502.3,199.4 503.0,200.1 506.0,201.4 C509.0,202.7 514.8,204.2 519.0,205.6 C523.2,207.0 528.2,208.4 531.0,209.6 C533.8,210.8 535.5,211.5 535.7,212.6 C535.9,213.7 534.5,214.7 532.0,216.0 C529.5,217.3 523.4,219.3 521.0,220.6 C518.6,221.9 517.4,222.8 517.4,224.0 C517.4,225.2 518.6,226.5 521.0,227.6 C523.4,228.7 529.5,229.6 532.0,230.6 C534.5,231.6 536.1,232.5 536.2,233.6 C536.3,234.7 535.0,235.8 532.5,237.0 C530.0,238.2 523.5,239.7 521.0,241.0 C518.5,242.3 517.7,243.4 517.8,244.6 C517.9,245.8 519.1,246.9 521.5,248.0 C523.9,249.1 529.6,250.2 532.0,251.2 C534.4,252.2 535.6,253.1 535.6,254.2 C535.6,255.3 533.9,256.3 532.0,257.6 C530.1,258.9 526.2,260.3 524.0,262.0 C521.8,263.7 519.7,265.8 518.5,268.0 C517.3,270.2 517.4,272.9 516.8,275.0 C516.2,277.1 516.1,278.9 515.0,280.4 C513.9,281.9 511.8,283.2 510.4,284.0 C509.0,284.8 507.1,284.7 506.4,285.4 C505.7,286.1 506.2,287.6 506.2,288.0" fill="none" stroke-width="4.88"/>
<path d="M485.0,186.6 C485.4,185.9 486.4,183.4 487.6,182.4 C488.8,181.4 490.5,180.6 492.0,180.6 C493.5,180.6 495.4,181.3 496.4,182.4 C497.4,183.5 497.7,185.2 498.0,187.0 C498.3,188.8 497.9,191.2 498.4,193.0 C498.9,194.8 499.7,196.6 501.0,198.0 C502.3,199.4 503.0,200.1 506.0,201.4 C509.0,202.7 514.8,204.2 519.0,205.6 C523.2,207.0 528.2,208.4 531.0,209.6 C533.8,210.8 535.5,211.5 535.7,212.6 C535.9,213.7 534.5,214.7 532.0,216.0 C529.5,217.3 523.4,219.3 521.0,220.6 C518.6,221.9 517.4,222.8 517.4,224.0 C517.4,225.2 518.6,226.5 521.0,227.6 C523.4,228.7 529.5,229.6 532.0,230.6 C534.5,231.6 536.1,232.5 536.2,233.6 C536.3,234.7 535.0,235.8 532.5,237.0 C530.0,238.2 523.5,239.7 521.0,241.0 C518.5,242.3 517.7,243.4 517.8,244.6 C517.9,245.8 519.1,246.9 521.5,248.0 C523.9,249.1 529.6,250.2 532.0,251.2 C534.4,252.2 535.6,253.1 535.6,254.2 C535.6,255.3 533.9,256.3 532.0,257.6 C530.1,258.9 526.2,260.3 524.0,262.0 C521.8,263.7 519.7,265.8 518.5,268.0 C517.3,270.2 517.4,272.9 516.8,275.0 C516.2,277.1 516.1,278.9 515.0,280.4 C513.9,281.9 511.8,283.2 510.4,284.0 C509.0,284.8 507.1,284.7 506.4,285.4 C505.7,286.1 506.2,287.6 506.2,288.0" fill="none" stroke-width="1.88" stroke="#fff"/>
</g>
<g stroke="#000" stroke-width="1.4" stroke-linecap="butt">
<line x1="251.0" y1="138.5" x2="321.5" y2="182.0"/>
<line x1="321.7" y1="138.5" x2="392.9" y2="243.0"/>
<line x1="197.9" y1="151.8" x2="340.3" y2="213.7"/>
<line x1="197.9" y1="202.9" x2="331.0" y2="243.7"/>
<line x1="197.9" y1="250.9" x2="297.5" y2="255.5"/>
<line x1="197.5" y1="307.0" x2="243.0" y2="293.6"/>
<line x1="197.5" y1="347.0" x2="297.0" y2="334.5"/>
<line x1="198.6" y1="405.0" x2="330.0" y2="392.5"/>
<line x1="198.0" y1="454.0" x2="342.5" y2="411.3"/>
<line x1="198.0" y1="501.8" x2="340.0" y2="422.5"/>
<line x1="197.0" y1="560.0" x2="342.5" y2="427.5"/>
<line x1="197.5" y1="599.5" x2="342.5" y2="483.0"/>
<line x1="306.3" y1="598.8" x2="397.5" y2="517.5"/>
<line x1="465.0" y1="598.8" x2="419.0" y2="518.0"/>
<line x1="547.5" y1="600.0" x2="496.3" y2="525.0"/>
<line x1="623.7" y1="566.3" x2="502.5" y2="503.7"/>
<line x1="510.0" y1="140.5" x2="412.5" y2="228.5"/>
<line x1="560.0" y1="140.0" x2="416.0" y2="240.0"/>
<line x1="621.2" y1="141.2" x2="508.0" y2="213.0"/>
<line x1="621.2" y1="173.8" x2="468.0" y2="265.3"/>
<line x1="622.5" y1="238.8" x2="477.5" y2="303.8"/>
<line x1="622.5" y1="283.8" x2="472.5" y2="311.3"/>
<line x1="622.5" y1="336.3" x2="483.8" y2="313.8"/>
<line x1="622.5" y1="373.8" x2="481.3" y2="322.5"/>
<line x1="622.5" y1="413.8" x2="478.0" y2="340.0"/>
<line x1="622.5" y1="458.8" x2="480.0" y2="346.0"/>
</g>
<g style="filter:opacity(0.999)">
<text class="n" x="245.2" y="138.3">6</text>
<text class="n" x="316.4" y="138.3">7</text>
<text class="n" x="191.6" y="152.1">5</text>
<text class="n" x="191.6" y="206.1">4</text>
<text class="n" x="191.6" y="254.4">3</text>
<text class="n" x="191.4" y="311.1">2</text>
<text class="n" x="191.4" y="351.1">1</text>
<text class="n" x="188.6" y="409.7">26</text>
<text class="n" x="188.6" y="458.1">25</text>
<text class="n" x="188.6" y="506.6">24</text>
<text class="n" x="188.6" y="567.4">23</text>
<text class="n" x="188.6" y="612.8">22</text>
<text class="n" x="301.2" y="612.8">21</text>
<text class="n" x="467.0" y="612.8">20</text>
<text class="n" x="553.7" y="612.8">19</text>
<text class="n" x="631.3" y="578.6">18</text>
<text class="n" x="512.4" y="138.5">8</text>
<text class="n" x="563.7" y="138.5">9</text>
<text class="n" x="631.2" y="138.5">10</text>
<text class="n" x="631.2" y="175.3">11</text>
<text class="n" x="631.2" y="240.3">12</text>
<text class="n" x="631.2" y="287.5">13</text>
<text class="n" x="631.2" y="340.8">14</text>
<text class="n" x="631.2" y="383.3">15</text>
<text class="n" x="631.2" y="421.6">16</text>
<text class="n" x="631.2" y="468.6">17</text>
</g>
<g style="filter:opacity(0.999)">
<rect x="46" y="48" width="743" height="956.3" fill="none" stroke="#000" stroke-width="2.2"/>
<g stroke="#111">
<line x1="46.00" y1="75.70" x2="789.00" y2="75.70" stroke-width="1.50"/>
<line x1="46.00" y1="627.50" x2="789.00" y2="627.50" stroke-width="1.50"/>
<line x1="46.00" y1="654.80" x2="789.00" y2="654.80" stroke-width="1.30"/>
<line x1="46.00" y1="966.80" x2="789.00" y2="966.80" stroke-width="1.40"/>
<line x1="74.50" y1="627.50" x2="74.50" y2="966.80" stroke-width="1.20"/>
<line x1="91.70" y1="627.50" x2="91.70" y2="966.80" stroke-width="1.20"/>
<line x1="179.90" y1="627.50" x2="179.90" y2="966.80" stroke-width="1.20"/>
<line x1="199.40" y1="627.50" x2="199.40" y2="966.80" stroke-width="1.20"/>
<line x1="445.00" y1="627.50" x2="445.00" y2="966.80" stroke-width="1.20"/>
<line x1="463.30" y1="627.50" x2="463.30" y2="966.80" stroke-width="1.20"/>
<line x1="551.80" y1="627.50" x2="551.80" y2="966.80" stroke-width="1.20"/>
<line x1="571.30" y1="627.50" x2="571.30" y2="966.80" stroke-width="1.20"/>
<line x1="417.50" y1="627.50" x2="417.50" y2="966.80" stroke-width="1.90"/>
</g>
<text class="s" font-size="20.93" transform="translate(338.20,70.60) scale(0.640,1)" x="7.73 23.20 38.67 54.14 69.61 85.08 100.55 116.02 131.48 146.95 162.42 177.89 193.36 208.83 224.30 239.77">HYDRAULIC SYSTEM</text>
<text class="s" font-size="13.66" transform="translate(48.40,645.60) scale(0.550,1)" x="5.00 15.00 25.00 35.00">NOTE</text>
<text class="s" font-size="13.66" transform="translate(113.20,645.60) scale(0.600,1)" x="4.79 14.38 23.96 33.54 43.12 52.71 62.29 71.88">PART NO.</text>
<text class="s" font-size="13.66" transform="translate(181.60,645.60) scale(0.500,1)" x="5.00 15.00 25.00">QTY</text>
<text class="s" font-size="13.66" transform="translate(76.60,645.60) scale(0.550,1)" x="5.00">N</text>
<text class="s" font-size="12.57" transform="translate(81.40,645.60) scale(0.600,1)" x="3.67">o</text>
<text class="s" font-size="13.66" transform="translate(85.30,645.60) scale(0.600,1)" x="2.50">.</text>
<text class="s" font-size="13.66" transform="translate(419.60,645.60) scale(0.550,1)" x="5.00 15.00 25.00 35.00">NOTE</text>
<text class="s" font-size="13.66" transform="translate(484.40,645.60) scale(0.600,1)" x="4.79 14.38 23.96 33.54 43.12 52.71 62.29 71.88">PART NO.</text>
<text class="s" font-size="13.66" transform="translate(552.80,645.60) scale(0.500,1)" x="5.00 15.00 25.00">QTY</text>
<text class="s" font-size="13.66" transform="translate(447.80,645.60) scale(0.550,1)" x="5.00">N</text>
<text class="s" font-size="12.57" transform="translate(452.60,645.60) scale(0.600,1)" x="3.67">o</text>
<text class="s" font-size="13.66" transform="translate(456.50,645.60) scale(0.600,1)" x="2.50">.</text>
<text class="s" font-size="13.66" transform="translate(282.60,645.60) scale(0.600,1)" x="4.79 14.38 23.96 33.54 43.12 52.71 62.29 71.88 81.46">PART NAME</text>
<text class="s" font-size="13.66" transform="translate(654.60,645.60) scale(0.600,1)" x="4.79 14.38 23.96 33.54 43.12 52.71 62.29 71.88 81.46">PART NAME</text>
<text class="m" font-size="13.63" transform="translate(85.30,668.10) scale(0.620,1)" x="4.27">1</text>
<text class="m" font-size="14.35" transform="translate(92.80,668.10) scale(0.880,1)" x="6.09 18.27 30.45 42.64 54.82 67.00 79.18 91.36">107−6480</text>
<text class="m" font-size="13.63" transform="translate(190.60,668.10) scale(0.620,1)" x="4.27">1</text>
<text class="m" font-size="14.81" transform="translate(200.60,668.10) scale(0.620,1)" x="5.34 16.02 26.69 37.37 48.05 58.73 69.40">HOUSING</text>
<text class="m" font-size="13.63" transform="translate(85.30,683.65) scale(0.620,1)" x="4.27">2</text>
<text class="m" font-size="14.35" transform="translate(92.80,683.65) scale(0.880,1)" x="6.09 18.27 30.45 42.64 54.82 67.00 79.18 91.36">087−5707</text>
<text class="m" font-size="13.63" transform="translate(190.60,683.65) scale(0.620,1)" x="4.27">1</text>
<text class="m" font-size="14.81" transform="translate(200.60,683.65) scale(0.620,1)" x="5.34 16.02 26.69 37.37 48.05">COVER</text>
<text class="m" font-size="13.63" transform="translate(85.30,699.20) scale(0.620,1)" x="4.27">3</text>
<text class="m" font-size="14.35" transform="translate(92.80,699.20) scale(0.880,1)" x="6.09 18.27 30.45 42.64 54.82 67.00 79.18 91.36">087−4448</text>
<text class="m" font-size="13.63" transform="translate(190.60,699.20) scale(0.620,1)" x="4.27">2</text>
<text class="m" font-size="14.81" transform="translate(200.60,699.20) scale(0.620,1)" x="5.34 16.02 26.69 37.37 48.05 58.73 69.40 80.08">BOLT(M8)</text>
<text class="m" font-size="13.63" transform="translate(85.30,714.75) scale(0.620,1)" x="4.27">4</text>
<text class="m" font-size="14.35" transform="translate(92.80,714.75) scale(0.880,1)" x="6.09 18.27 30.45 42.64 54.82 67.00 79.18 91.36"> 8T−4133</text>
<text class="m" font-size="13.63" transform="translate(190.60,714.75) scale(0.620,1)" x="4.27">2</text>
<text class="m" font-size="14.81" transform="translate(200.60,714.75) scale(0.620,1)" x="5.34 16.02 26.69 37.37 48.05 58.73 69.40 80.08">NUT(M10)</text>
<text class="m" font-size="13.63" transform="translate(85.30,730.30) scale(0.620,1)" x="4.27">5</text>
<text class="m" font-size="14.35" transform="translate(92.80,730.30) scale(0.880,1)" x="6.09 18.27 30.45 42.64 54.82 67.00 79.18 91.36">087−4710</text>
<text class="m" font-size="13.63" transform="translate(190.60,730.30) scale(0.620,1)" x="4.27">2</text>
<text class="m" font-size="14.81" transform="translate(200.60,730.30) scale(0.620,1)" x="5.34 16.02 26.69 37.37 48.05 58.73 69.40 80.08 90.76 101.44 112.11 122.79 133.47">SETSCREW(M10)</text>
<text class="m" font-size="13.63" transform="translate(85.30,745.85) scale(0.620,1)" x="4.27">6</text>
<text class="m" font-size="14.35" transform="translate(92.80,745.85) scale(0.880,1)" x="6.09 18.27 30.45 42.64 54.82 67.00 79.18 91.36">087−5709</text>
<text class="m" font-size="13.63" transform="translate(190.60,745.85) scale(0.620,1)" x="4.27">1</text>
<text class="m" font-size="14.81" transform="translate(200.60,745.85) scale(0.620,1)" x="5.34 16.02 26.69 37.37 48.05 58.73">BELLOW</text>
<text class="m" font-size="13.63" transform="translate(85.30,761.40) scale(0.620,1)" x="4.27">7</text>
<text class="m" font-size="14.35" transform="translate(92.80,761.40) scale(0.880,1)" x="6.09 18.27 30.45 42.64 54.82 67.00 79.18 91.36">099−6144</text>
<text class="m" font-size="13.63" transform="translate(190.60,761.40) scale(0.620,1)" x="4.27">2</text>
<text class="m" font-size="14.81" transform="translate(200.60,761.40) scale(0.620,1)" x="5.34 16.02 26.69 37.37 48.05 58.73 69.40">BUSHING</text>
<text class="m" font-size="13.63" transform="translate(85.30,776.95) scale(0.620,1)" x="4.27">8</text>
<text class="m" font-size="14.35" transform="translate(92.80,776.95) scale(0.880,1)" x="6.09 18.27 30.45 42.64 54.82 67.00 79.18 91.36">095−1260</text>
<text class="m" font-size="13.63" transform="translate(190.60,776.95) scale(0.620,1)" x="4.27">1</text>
<text class="m" font-size="14.81" transform="translate(200.60,776.95) scale(0.620,1)" x="5.34 16.02 26.69 37.37 48.05 58.73 69.40 80.08">SETSCREW</text>
<text class="m" font-size="13.63" transform="translate(85.30,792.50) scale(0.620,1)" x="4.27">9</text>
<text class="m" font-size="14.35" transform="translate(92.80,792.50) scale(0.880,1)" x="6.09 18.27 30.45 42.64 54.82 67.00 79.18 91.36">099−6145</text>
<text class="m" font-size="13.63" transform="translate(190.60,792.50) scale(0.620,1)" x="4.27">1</text>
<text class="m" font-size="14.81" transform="translate(200.60,792.50) scale(0.620,1)" x="5.34 16.02 26.69 37.37 48.05 58.73 69.40 80.08">CAMSHAFT</text>
<text class="m" font-size="13.63" transform="translate(80.00,808.05) scale(0.620,1)" x="4.27 12.82">10</text>
<text class="m" font-size="14.35" transform="translate(92.80,808.05) scale(0.880,1)" x="6.09 18.27 30.45 42.64 54.82 67.00 79.18 91.36">087−5708</text>
<text class="m" font-size="13.63" transform="translate(190.60,808.05) scale(0.620,1)" x="4.27">1</text>
<text class="m" font-size="14.81" transform="translate(200.60,808.05) scale(0.620,1)" x="5.34 16.02 26.69 37.37 48.05">PEDAL</text>
<text class="m" font-size="13.63" transform="translate(80.00,823.60) scale(0.620,1)" x="4.27 12.82">11</text>
<text class="m" font-size="14.35" transform="translate(92.80,823.60) scale(0.880,1)" x="6.09 18.27 30.45 42.64 54.82 67.00 79.18 91.36">087−4704</text>
<text class="m" font-size="13.63" transform="translate(190.60,823.60) scale(0.620,1)" x="4.27">2</text>
<text class="m" font-size="14.81" transform="translate(200.60,823.60) scale(0.620,1)" x="5.34 16.02 26.69">ROD</text>
<text class="m" font-size="13.63" transform="translate(80.00,839.15) scale(0.620,1)" x="4.27 12.82">12</text>
<text class="m" font-size="14.35" transform="translate(92.80,839.15) scale(0.880,1)" x="6.09 18.27 30.45 42.64 54.82 67.00 79.18 91.36">099−6135</text>
<text class="m" font-size="13.63" transform="translate(190.60,839.15) scale(0.620,1)" x="4.27">2</text>
<text class="m" font-size="14.81" transform="translate(200.60,839.15) scale(0.620,1)" x="5.34 16.02 26.69 37.37 48.05 58.73 69.40">SCRAPER</text>
<text class="m" font-size="13.63" transform="translate(80.00,854.70) scale(0.620,1)" x="4.27 12.82">13</text>
<text class="m" font-size="14.35" transform="translate(92.80,854.70) scale(0.880,1)" x="6.09 18.27 30.45 42.64 54.82 67.00 79.18 91.36">094−0876</text>
<text class="m" font-size="13.63" transform="translate(190.60,854.70) scale(0.620,1)" x="4.27">2</text>
<text class="m" font-size="14.81" transform="translate(200.60,854.70) scale(0.620,1)" x="5.34 16.02 26.69 37.37">SEAL</text>
<text class="m" font-size="13.63" transform="translate(80.00,870.25) scale(0.620,1)" x="4.27 12.82">14</text>
<text class="m" font-size="14.35" transform="translate(92.80,870.25) scale(0.880,1)" x="6.09 18.27 30.45 42.64 54.82 67.00 79.18 91.36">087−4703</text>
<text class="m" font-size="13.63" transform="translate(190.60,870.25) scale(0.620,1)" x="4.27">2</text>
<text class="m" font-size="14.81" transform="translate(200.60,870.25) scale(0.620,1)" x="5.34 16.02 26.69 37.37">PLUG</text>
<text class="m" font-size="13.63" transform="translate(80.00,885.80) scale(0.620,1)" x="4.27 12.82">15</text>
<text class="m" font-size="14.35" transform="translate(92.80,885.80) scale(0.880,1)" x="6.09 18.27 30.45 42.64 54.82 67.00 79.18 91.36">095−1586</text>
<text class="m" font-size="13.63" transform="translate(190.60,885.80) scale(0.620,1)" x="4.27">2</text>
<text class="m" font-size="14.81" transform="translate(200.60,885.80) scale(0.620,1)" x="5.34 16.02 26.69 37.37">SEAL</text>
<text class="m" font-size="13.63" transform="translate(80.00,901.35) scale(0.620,1)" x="4.27 12.82">16</text>
<text class="m" font-size="14.35" transform="translate(92.80,901.35) scale(0.880,1)" x="6.09 18.27 30.45 42.64 54.82 67.00 79.18 91.36">099−6136</text>
<text class="m" font-size="13.63" transform="translate(190.60,901.35) scale(0.620,1)" x="4.27">4</text>
<text class="m" font-size="14.81" transform="translate(200.60,901.35) scale(0.620,1)" x="5.34 16.02 26.69 37.37 48.05 58.73">WASHER</text>
<text class="m" font-size="13.63" transform="translate(80.00,916.90) scale(0.620,1)" x="4.27 12.82">17</text>
<text class="m" font-size="14.35" transform="translate(92.80,916.90) scale(0.880,1)" x="6.09 18.27 30.45 42.64 54.82 67.00 79.18 91.36">099−6140</text>
<text class="m" font-size="13.63" transform="translate(190.60,916.90) scale(0.620,1)" x="4.27">2</text>
<text class="m" font-size="14.81" transform="translate(200.60,916.90) scale(0.620,1)" x="5.34 16.02 26.69 37.37">SEAT</text>
<text class="m" font-size="13.63" transform="translate(80.00,932.45) scale(0.620,1)" x="4.27 12.82">18</text>
<text class="m" font-size="14.35" transform="translate(92.80,932.45) scale(0.880,1)" x="6.09 18.27 30.45 42.64 54.82 67.00 79.18 91.36">107−6479</text>
<text class="m" font-size="13.63" transform="translate(190.60,932.45) scale(0.620,1)" x="4.27">1</text>
<text class="m" font-size="14.81" transform="translate(200.60,932.45) scale(0.620,1)" x="5.34 16.02 26.69 37.37 48.05 58.73 69.40 80.08 90.76">PLUG(M12)</text>
<text class="m" font-size="13.63" transform="translate(80.00,948.00) scale(0.620,1)" x="4.27 12.82">19</text>
<text class="m" font-size="14.35" transform="translate(92.80,948.00) scale(0.880,1)" x="6.09 18.27 30.45 42.64 54.82 67.00 79.18 91.36">095−1578</text>
<text class="m" font-size="13.63" transform="translate(190.60,948.00) scale(0.620,1)" x="4.27">1</text>
<text class="m" font-size="14.81" transform="translate(200.60,948.00) scale(0.620,1)" x="5.34 16.02 26.69 37.37">SEAL</text>
<text class="m" font-size="13.63" transform="translate(80.00,963.55) scale(0.620,1)" x="4.27 12.82">20</text>
<text class="m" font-size="14.35" transform="translate(92.80,963.55) scale(0.880,1)" x="6.09 18.27 30.45 42.64 54.82 67.00 79.18 91.36">107−6481</text>
<text class="m" font-size="13.63" transform="translate(190.60,963.55) scale(0.620,1)" x="4.27">1</text>
<text class="m" font-size="14.81" transform="translate(200.60,963.55) scale(0.620,1)" x="5.34 16.02 26.69 37.37">SEAT</text>
<text class="m" font-size="13.63" transform="translate(451.20,668.10) scale(0.620,1)" x="4.27 12.82">21</text>
<text class="m" font-size="14.35" transform="translate(464.00,668.10) scale(0.880,1)" x="6.09 18.27 30.45 42.64 54.82 67.00 79.18 91.36"> 4B−9880</text>
<text class="m" font-size="13.63" transform="translate(561.80,668.10) scale(0.620,1)" x="4.27">1</text>
<text class="m" font-size="14.81" transform="translate(571.80,668.10) scale(0.620,1)" x="5.34 16.02 26.69 37.37">BALL</text>
<text class="m" font-size="13.63" transform="translate(451.20,683.65) scale(0.620,1)" x="4.27 12.82">22</text>
<text class="m" font-size="14.35" transform="translate(464.00,683.65) scale(0.880,1)" x="6.09 18.27 30.45 42.64 54.82 67.00 79.18 91.36">099−6139</text>
<text class="m" font-size="13.63" transform="translate(561.80,683.65) scale(0.620,1)" x="4.27">2</text>
<text class="m" font-size="14.81" transform="translate(571.80,683.65) scale(0.620,1)" x="5.34 16.02 26.69 37.37 48.05">SPOOL</text>
<text class="m" font-size="13.63" transform="translate(451.20,699.20) scale(0.620,1)" x="4.27 12.82">23</text>
<text class="m" font-size="14.35" transform="translate(464.00,699.20) scale(0.880,1)" x="6.09 18.27 30.45 42.64 54.82 67.00 79.18 91.36">099−6141</text>
<text class="m" font-size="13.63" transform="translate(561.80,699.20) scale(0.620,1)" x="4.27">2</text>
<text class="m" font-size="14.81" transform="translate(571.80,699.20) scale(0.620,1)" x="5.34 16.02 26.69 37.37 48.05 58.73">WASHER</text>
<text class="m" font-size="13.63" transform="translate(451.20,714.75) scale(0.620,1)" x="4.27 12.82">24</text>
<text class="m" font-size="14.35" transform="translate(464.00,714.75) scale(0.880,1)" x="6.09 18.27 30.45 42.64 54.82 67.00 79.18 91.36">099−6137</text>
<text class="m" font-size="13.63" transform="translate(561.80,714.75) scale(0.620,1)" x="4.27">2</text>
<text class="m" font-size="14.81" transform="translate(571.80,714.75) scale(0.620,1)" x="5.34 16.02 26.69 37.37 48.05 58.73">WASHER</text>
<text class="m" font-size="13.63" transform="translate(451.20,730.30) scale(0.620,1)" x="4.27 12.82">25</text>
<text class="m" font-size="14.35" transform="translate(464.00,730.30) scale(0.880,1)" x="6.09 18.27 30.45 42.64 54.82 67.00 79.18 91.36">099−6142</text>
<text class="m" font-size="13.63" transform="translate(561.80,730.30) scale(0.620,1)" x="4.27">2</text>
<text class="m" font-size="14.81" transform="translate(571.80,730.30) scale(0.620,1)" x="5.34 16.02 26.69 37.37 48.05 58.73">SPRING</text>
<text class="m" font-size="13.63" transform="translate(451.20,745.85) scale(0.620,1)" x="4.27 12.82">26</text>
<text class="m" font-size="14.35" transform="translate(464.00,745.85) scale(0.880,1)" x="6.09 18.27 30.45 42.64 54.82 67.00 79.18 91.36">087−4707</text>
<text class="m" font-size="13.63" transform="translate(561.80,745.85) scale(0.620,1)" x="4.27">2</text>
<text class="m" font-size="14.81" transform="translate(571.80,745.85) scale(0.620,1)" x="5.34 16.02 26.69 37.37 48.05 58.73">SPRING</text>
<text class="s" font-size="14.53" transform="translate(677.80,999.20) scale(0.620,1)" x="5.51 16.52 27.54 38.56 49.57 60.59 71.60">H060041</text>
<text class="s" font-size="14.53" transform="translate(737.80,999.20) scale(0.620,1)" x="5.51 16.52 27.54">E00</text>
<text class="s" font-size="15.99" transform="translate(332.20,1020.70) scale(0.620,1)" x="6.18 18.53 30.89 43.24 55.60 67.95 80.31 92.66 105.02 117.37 129.73 142.08 154.44 166.79 179.15 191.50 203.85 216.21 228.56 240.92 253.27 265.63 277.98">107–6420 PILOT VALVE GP</text>
<text class="s" font-size="13.08" transform="translate(283.20,1033.30) scale(0.600,1)" x="5.28 15.83 26.38 36.93 47.48 58.02 68.58 79.12 89.67 100.22 110.78 121.33 131.88 142.43 152.97 163.53 174.08 184.63 195.18 205.73 216.28 226.83 237.38 247.93 258.48 269.02 279.58 290.12 300.68 311.23 321.78 332.33 342.88 353.43 363.98 374.53 385.08 395.62 406.18 416.73 427.28 437.82 448.38">PART OF 142–6519–Page 447,146–1505–Page 448</text>
<text class="s" font-size="13.08" transform="translate(378.60,1045.80) scale(0.580,1)" x="5.28 15.83 26.38 36.93 47.48 58.03 68.59 79.14 89.69 100.24 110.79 121.34 131.90">AN ATTACHMENT</text>
<text class="s" font-size="15.12" transform="translate(46.00,1105.50) scale(0.620,1)" x="5.40 16.21 27.02">442</text>
<text class="s" font-size="13.08" transform="translate(718.60,1105.30) scale(0.600,1)" x="5.21 15.62 26.04 36.46 46.88 57.29 67.71 78.12 88.54 98.96 109.38">XEBP7710–01</text>
</g>
</svg>
</body></html>
